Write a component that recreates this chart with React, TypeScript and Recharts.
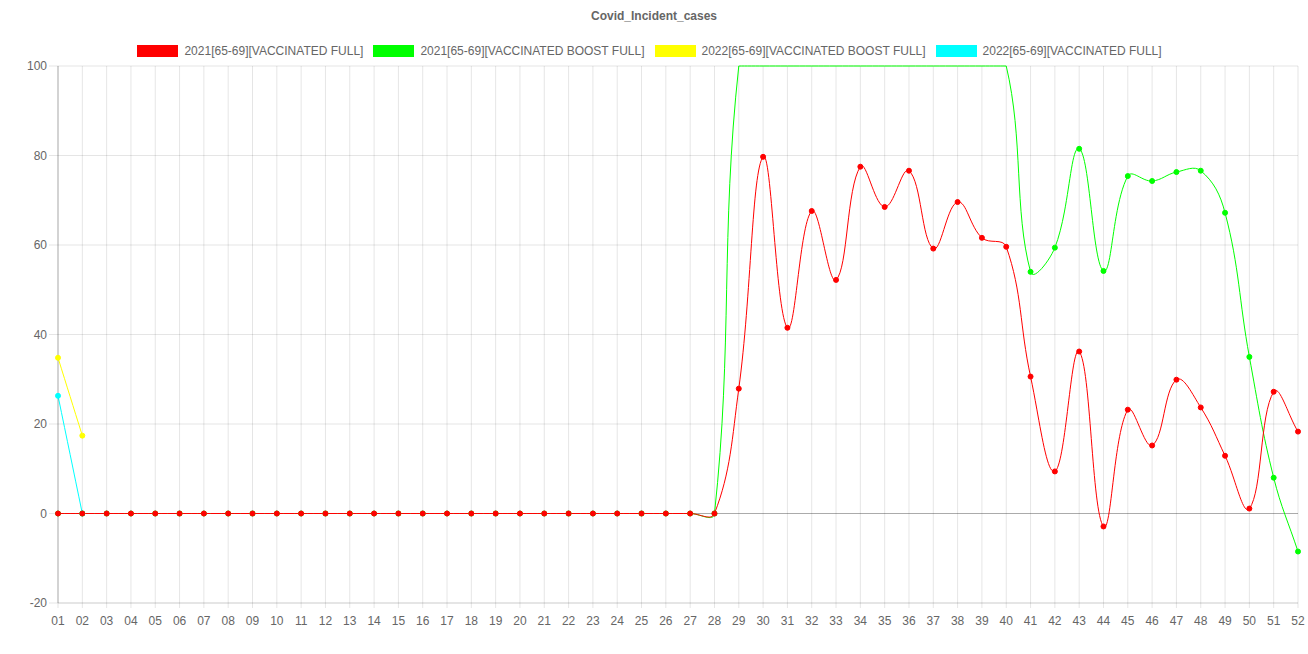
import React from "react"
import {
  CartesianGrid,
  Legend,
  Line,
  LineChart,
  ReferenceLine,
  XAxis,
  YAxis,
} from "recharts"

const weeks = [
  "01", "02", "03", "04", "05", "06", "07", "08", "09", "10", "11", "12", "13",
  "14", "15", "16", "17", "18", "19", "20", "21", "22", "23", "24", "25", "26",
  "27", "28", "29", "30", "31", "32", "33", "34", "35", "36", "37", "38", "39",
  "40", "41", "42", "43", "44", "45", "46", "47", "48", "49", "50", "51", "52",
]

const vaccFull2021 = [
  0, 0, 0, 0, 0, 0, 0, 0, 0, 0, 0, 0, 0, 0, 0, 0, 0, 0, 0, 0, 0, 0, 0, 0, 0, 0,
  0, 0, 27.9, 79.7, 41.5, 67.6, 52.2, 77.5, 68.5, 76.6, 59.2, 69.6, 61.6, 59.6,
  30.6, 9.4, 36.2, -2.9, 23.2, 15.2, 29.9, 23.7, 12.9, 1.1, 27.2, 18.3,
]

const boostFull2021 = [
  0, 0, 0, 0, 0, 0, 0, 0, 0, 0, 0, 0, 0, 0, 0, 0, 0, 0, 0, 0, 0, 0, 0, 0, 0, 0,
  0, 0, 100, 100, 100, 100, 100, 100, 100, 100, 100, 100, 100, 100,
  54.0, 59.4, 81.5, 54.2, 75.4, 74.3, 76.3, 76.6, 67.2, 35.0, 8.0, -8.5,
]

const boostFull2022 = [34.8, 17.4]
const vaccFull2022 = [26.3, 0]

const yTicks = [-20, 0, 20, 40, 60, 80, 100]

const series = [
  { key: "r21", name: "2021[65-69][VACCINATED FULL]", color: "#ff0000" },
  { key: "g21", name: "2021[65-69][VACCINATED BOOST FULL]", color: "#00ff00" },
  { key: "y22", name: "2022[65-69][VACCINATED BOOST FULL]", color: "#ffff00" },
  { key: "c22", name: "2022[65-69][VACCINATED FULL]", color: "#00ffff" },
]

const data = weeks.map((week, i) => ({
  week,
  r21: vaccFull2021[i],
  g21: boostFull2021[i],
  y22: i < boostFull2022.length ? boostFull2022[i] : null,
  c22: i < vaccFull2022.length ? vaccFull2022[i] : null,
}))

const W = 1308
const H = 654
const LEGEND_H = 66
const margin = { top: 0, right: 10, left: 8, bottom: 21 }
const Y_AXIS_W = 50
const X_AXIS_H = 30

const area = {
  left: margin.left + Y_AXIS_W,
  right: W - margin.right,
  top: LEGEND_H,
  bottom: H - margin.bottom - X_AXIS_H,
}

const clamp = (v: number, lo: number, hi: number) => Math.min(hi, Math.max(lo, v))

// bezier spline like chart.js (tension 0.4, control points capped to chart area)
const splineCurve = (context: any) => {
  let pts: [number, number][] = []
  return {
    areaStart() {},
    areaEnd() {},
    lineStart() {
      pts = []
    },
    point(x: number, y: number) {
      pts.push([+x, +y])
    },
    lineEnd() {
      const n = pts.length
      if (!n) return
      const t = 0.4
      const cps = pts.map((p, i) => {
        const prev = pts[Math.max(0, i - 1)]
        const next = pts[Math.min(n - 1, i + 1)]
        const d01 = Math.hypot(p[0] - prev[0], p[1] - prev[1])
        const d12 = Math.hypot(next[0] - p[0], next[1] - p[1])
        const sum = d01 + d12
        const fa = sum ? (t * d01) / sum : 0
        const fb = sum ? (t * d12) / sum : 0
        const dx = next[0] - prev[0]
        const dy = next[1] - prev[1]
        return {
          px: clamp(p[0] - fa * dx, area.left, area.right),
          py: clamp(p[1] - fa * dy, area.top, area.bottom),
          nx: clamp(p[0] + fb * dx, area.left, area.right),
          ny: clamp(p[1] + fb * dy, area.top, area.bottom),
        }
      })
      context.moveTo(pts[0][0], pts[0][1])
      for (let i = 1; i < n; i++) {
        context.bezierCurveTo(
          cps[i - 1].nx,
          cps[i - 1].ny,
          cps[i].px,
          cps[i].py,
          pts[i][0],
          pts[i][1]
        )
      }
    },
  }
}

const font = "'Liberation Sans', Arial, sans-serif"

const makeDot = (color: string) => (props: any) => {
  const { cx, cy, value, index } = props
  if (value == null || value >= 100) return <g key={index} />
  return <circle key={index} cx={cx} cy={cy} r={2.5} fill={color} stroke={color} strokeWidth={1} />
}

const TopLegend = () => (
  <div style={{ width: W, height: LEGEND_H, fontFamily: font, color: "#666" }}>
    <div style={{ textAlign: "center", fontSize: 12, fontWeight: "bold", paddingTop: 9, lineHeight: "14px" }}>
      Covid_Incident_cases
    </div>
    <div
      style={{
        display: "flex",
        justifyContent: "center",
        marginTop: 21,
        fontSize: 12,
        lineHeight: "14px",
        paddingLeft: 1,
      }}
    >
      {series.map((s) => (
        <div key={s.key} style={{ display: "flex", alignItems: "center", marginRight: 10 }}>
          <span style={{ display: "inline-block", width: 41, height: 12, background: s.color, marginRight: 6 }} />
          <span>{s.name}</span>
        </div>
      ))}
    </div>
  </div>
)

export default function App() {
  const drawOrder = [...series].reverse()
  return (
    <div style={{ width: W, height: H, background: "#fff" }}>
      <style>{"body{margin:0}"}</style>
      <LineChart width={W} height={H} data={data} margin={margin} style={{ fontFamily: font }}>
        <CartesianGrid stroke="rgba(0,0,0,0.1)" />
        <XAxis
          dataKey="week"
          interval={0}
          tick={{ fill: "#666", fontSize: 12 }}
          tickSize={5}
          tickMargin={8}
          tickLine={{ stroke: "rgba(0,0,0,0.1)" }}
          axisLine={{ stroke: "rgba(0,0,0,0.1)" }}
          height={X_AXIS_H}
        />
        <YAxis
          type="number"
          domain={[-20, 100]}
          ticks={yTicks}
          width={Y_AXIS_W}
          tick={{ fill: "#666", fontSize: 12 }}
          tickSize={9}
          tickMargin={2}
          tickLine={{ stroke: "rgba(0,0,0,0.1)" }}
          axisLine={{ stroke: "rgba(0,0,0,0.25)" }}
        />
        <ReferenceLine y={0} stroke="rgba(0,0,0,0.25)" />
        <Legend verticalAlign="top" content={<TopLegend />} wrapperStyle={{ top: 0, left: 0, width: W }} />
        {drawOrder.map((s) => (
          <Line
            key={s.key}
            dataKey={s.key}
            name={s.name}
            type={splineCurve as any}
            stroke={s.color}
            strokeWidth={1}
            dot={makeDot(s.color)}
            activeDot={false}
            isAnimationActive={false}
          />
        ))}
      </LineChart>
    </div>
  )
}
